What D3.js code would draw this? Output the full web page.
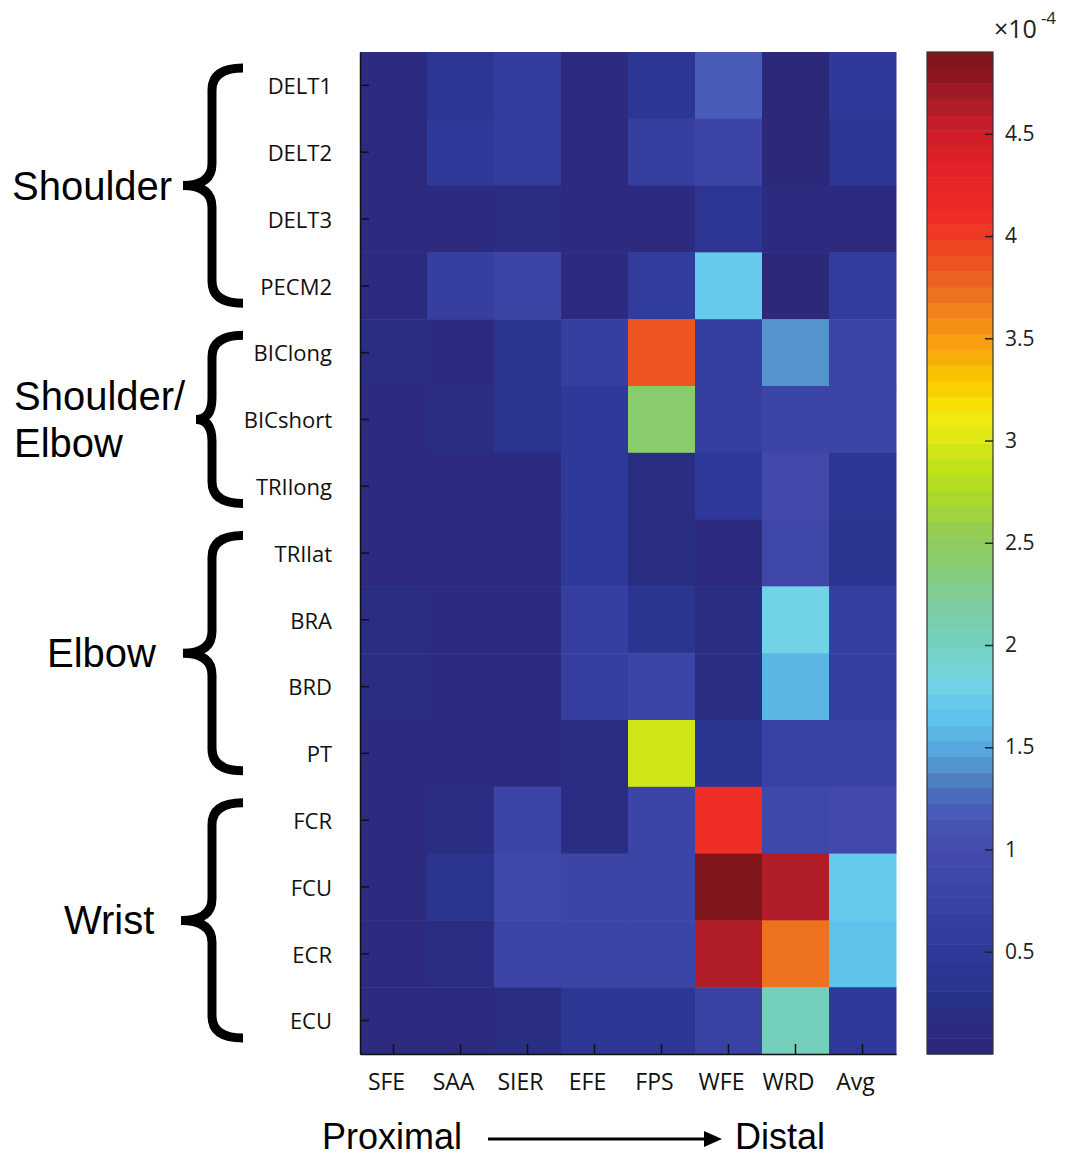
<!DOCTYPE html>
<html>
<head>
<meta charset="utf-8">
<script src="https://cdn.jsdelivr.net/npm/d3@7"></script>
<style>
  body { margin: 0; background: #fff; }
  svg { display: block; }
</style>
</head>
<body>
<svg id="chart" width="1070" height="1158"></svg>
<script>
// muscles (rows) and tasks (columns)
const muscles = ['DELT1', 'DELT2', 'DELT3', 'PECM2', 'BIClong', 'BICshort', 'TRIlong',
  'TRIlat', 'BRA', 'BRD', 'PT', 'FCR', 'FCU', 'ECR', 'ECU']
const tasks = ['SFE', 'SAA', 'SIER', 'EFE', 'FPS', 'WFE', 'WRD', 'Avg']

// values x 1e-4, one row per muscle, in task order
const values = [
  [0.10, 0.40, 0.60, 0.10, 0.45, 1.20, 0.05, 0.50],
  [0.10, 0.50, 0.60, 0.10, 0.65, 0.80, 0.05, 0.40],
  [0.10, 0.10, 0.22, 0.10, 0.10, 0.45, 0.08, 0.10],
  [0.10, 0.65, 0.80, 0.10, 0.60, 1.70, 0.05, 0.60],
  [0.22, 0.10, 0.35, 0.65, 3.85, 0.65, 1.40, 0.80],
  [0.10, 0.22, 0.35, 0.50, 2.40, 0.65, 0.80, 0.80],
  [0.10, 0.10, 0.10, 0.50, 0.22, 0.50, 0.95, 0.45],
  [0.10, 0.10, 0.10, 0.50, 0.22, 0.08, 0.90, 0.35],
  [0.22, 0.10, 0.10, 0.65, 0.35, 0.22, 1.80, 0.65],
  [0.22, 0.10, 0.10, 0.65, 0.80, 0.22, 1.55, 0.65],
  [0.10, 0.10, 0.10, 0.22, 2.97, 0.35, 0.75, 0.75],
  [0.10, 0.22, 0.80, 0.22, 0.80, 4.10, 0.85, 0.95],
  [0.10, 0.35, 0.90, 0.80, 0.80, 4.85, 4.62, 1.76],
  [0.10, 0.22, 0.80, 0.80, 0.80, 4.62, 3.70, 1.65],
  [0.10, 0.10, 0.22, 0.45, 0.45, 0.75, 2.00, 0.50]
]

const groupNames = [['Shoulder'], ['Shoulder/', 'Elbow'], ['Elbow'], ['Wrist']]
const groupFirst = ['DELT1', 'BIClong', 'TRIlat', 'FCR']
const groupLast = ['PECM2', 'TRIlong', 'PT', 'ECU']

const cbarTicks = [0.5, 1, 1.5, 2, 2.5, 3, 3.5, 4, 4.5]
const cbarDomain = [0, 4.9]

// jet-like colour map, sampled into 64 bands
const mapStops = [0, 0.12, 0.25, 0.4, 0.55, 0.75, 0.95, 1.1, 1.2, 1.3, 1.4, 1.5, 1.6, 1.7, 1.8, 1.9, 2.0,
  2.2, 2.4, 2.55, 2.7, 2.85, 3.0, 3.1, 3.2, 3.3, 3.4, 3.5, 3.6, 3.7, 3.8, 3.9, 4.0, 4.1, 4.3, 4.5, 4.6, 4.7, 4.8, 4.9]
const mapColors = ['#2d2877', '#2c2b80', '#283186', '#2c3692', '#313b9c', '#3a42a4', '#4249ab', '#4452b0',
  '#4a5eb8', '#4a74bc', '#5290cc', '#58a8e0', '#5cbce8', '#62c8ee', '#72d2e6', '#74d4d2', '#74d0c2',
  '#7ccca0', '#88cc70', '#92cc56', '#a8d830', '#bce01a', '#dee814', '#f0ea10', '#fadc00', '#f8c800',
  '#f8b008', '#f89a10', '#f08a18', '#ee7420', '#ec6020', '#ee5020', '#f03c24', '#ee2c26', '#e62228',
  '#d01e28', '#b81e2a', '#a01a28', '#8a1620', '#7a1418']

const jet = d3.scaleLinear().domain(mapStops).range(mapColors).clamp(true)
const nBands = 64
const bandSize = (cbarDomain[1] - cbarDomain[0]) / nBands
function colour(v) {
  let i = Math.min(nBands - 1, Math.max(0, Math.floor((v - cbarDomain[0]) / bandSize)))
  return jet(cbarDomain[0] + (i + 0.5) * bandSize)
}

const svg = d3.select('#chart')
const plotLeft = 360, plotRight = 896, plotTop = 52, plotBottom = 1054

const x = d3.scaleBand().domain(tasks).range([plotLeft, plotRight])
const y = d3.scaleBand().domain(muscles).range([plotTop, plotBottom])

const cells = []
muscles.forEach(function (m, i) {
  tasks.forEach(function (t, j) {
    cells.push({ muscle: m, task: t, value: values[i][j] })
  })
})

svg.append('g')
  .selectAll('rect')
  .data(cells)
  .enter()
  .append('rect')
  .attr('x', d => x(d.task))
  .attr('y', d => y(d.muscle))
  .attr('width', x.bandwidth() + 0.5)
  .attr('height', y.bandwidth() + 0.5)
  .attr('fill', d => colour(d.value))

// axes, ticks pointing inward
const yAxis = svg.append('g')
  .attr('transform', 'translate(' + plotLeft + ',0)')
  .call(d3.axisLeft(y).tickSize(-9).tickSizeOuter(0).tickPadding(28))
yAxis.select('.domain').attr('stroke', '#111').attr('stroke-width', 1.5)
yAxis.selectAll('.tick line').attr('stroke', '#111').attr('stroke-width', 1.5)
yAxis.selectAll('text')
  .attr('dy', '0.4em')
  .style('font-family', 'Open Sans')
  .style('font-size', '22px')
  .attr('fill', '#111')

const xAxis = svg.append('g')
  .attr('transform', 'translate(0,' + plotBottom + ')')
  .call(d3.axisBottom(x).tickSize(-10).tickSizeOuter(0).tickPadding(20))
xAxis.select('.domain').attr('stroke', '#111').attr('stroke-width', 1.5)
xAxis.selectAll('.tick line').attr('stroke', '#111').attr('stroke-width', 1.5)
xAxis.selectAll('text')
  .attr('x', -7)
  .style('font-family', 'Open Sans')
  .style('font-size', '23px')
  .attr('fill', '#111')

// colour bar
const cbX = 927, cbW = 66
const cb = d3.scaleLinear().domain(cbarDomain).range([plotBottom, plotTop])
const bands = d3.range(nBands).map(i => cbarDomain[0] + i * bandSize)

svg.append('g')
  .selectAll('rect')
  .data(bands)
  .enter()
  .append('rect')
  .attr('x', cbX)
  .attr('y', d => cb(d + bandSize))
  .attr('width', cbW)
  .attr('height', d => cb(d) - cb(d + bandSize) + 0.5)
  .attr('fill', d => colour(d + bandSize / 2))

svg.append('rect')
  .attr('x', cbX)
  .attr('y', plotTop)
  .attr('width', cbW)
  .attr('height', plotBottom - plotTop)
  .attr('fill', 'none')
  .attr('stroke', '#333')
  .attr('stroke-width', 1.2)

const cAxis = svg.append('g')
  .attr('transform', 'translate(' + (cbX + cbW) + ',0)')
  .call(d3.axisRight(cb).tickValues(cbarTicks).tickFormat(d => String(d)).tickSize(-8).tickSizeOuter(0).tickPadding(12))
cAxis.select('.domain').remove()
cAxis.selectAll('.tick line').attr('stroke', '#222').attr('stroke-width', 1.5)
cAxis.selectAll('text')
  .style('font-family', 'Open Sans')
  .style('font-size', '21px')
  .attr('fill', '#222')

const expo = svg.append('text')
  .attr('x', 994)
  .attr('y', 38)
  .style('font-family', 'Open Sans')
  .style('font-size', '25px')
  .attr('fill', '#222')
expo.append('tspan').text('\u00d710')
expo.append('tspan').attr('dy', -14).attr('dx', 4).style('font-size', '17px').text('-4')

// group braces and labels
function bracePath(y0, y1, ym, xt) {
  const xr = 243, xs = 212, r = 22, r2 = 22
  return 'M' + xr + ',' + y0 +
    'Q' + xs + ',' + y0 + ' ' + xs + ',' + (y0 + r) +
    'L' + xs + ',' + (ym - r2) +
    'Q' + xs + ',' + ym + ' ' + xt + ',' + ym +
    'Q' + xs + ',' + ym + ' ' + xs + ',' + (ym + r2) +
    'L' + xs + ',' + (y1 - r) +
    'Q' + xs + ',' + y1 + ' ' + xr + ',' + y1
}

const braceTips = [183, 196, 183, 181]
const labelX = [12, 14, 47, 64]

groupNames.forEach(function (lines, i) {
  const y0 = y(groupFirst[i]) + 16
  const y1 = y(groupLast[i]) + y.bandwidth() - 16
  const ym = (y0 + y1) / 2
  svg.append('path')
    .attr('d', bracePath(y0, y1, ym, braceTips[i]))
    .attr('fill', 'none')
    .attr('stroke', '#000')
    .attr('stroke-width', 9)

  const t = svg.append('text')
    .attr('x', labelX[i])
    .attr('y', ym + 14 - (lines.length - 1) * 23)
    .style('font-family', 'Liberation Sans')
    .style('font-size', '40px')
    .attr('fill', '#000')
  lines.forEach(function (s, k) {
    t.append('tspan').attr('x', labelX[i]).attr('dy', k === 0 ? 0 : 47).text(s)
  })
})

// proximal -> distal
svg.append('text')
  .attr('x', 322)
  .attr('y', 1149)
  .style('font-family', 'Liberation Sans')
  .style('font-size', '36px')
  .text('Proximal')
svg.append('line')
  .attr('x1', 488).attr('x2', 708)
  .attr('y1', 1139).attr('y2', 1139)
  .attr('stroke', '#000')
  .attr('stroke-width', 3)
svg.append('path')
  .attr('d', 'M704,1131 L722,1139 L704,1147 Z')
  .attr('fill', '#000')
svg.append('text')
  .attr('x', 735)
  .attr('y', 1149)
  .style('font-family', 'Liberation Sans')
  .style('font-size', '36px')
  .text('Distal')
</script>
</body>
</html>
